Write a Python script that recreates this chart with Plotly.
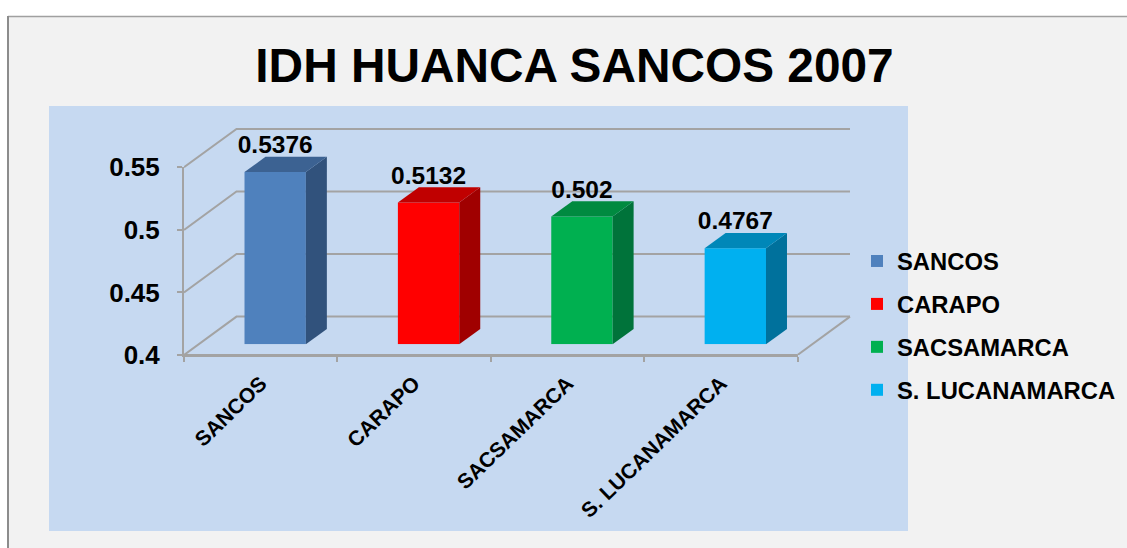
import plotly.graph_objects as go

W, H = 1127, 548
TITLE = "IDH HUANCA SANCOS 2007"
categories = ["SANCOS", "CARAPO", "SACSAMARCA", "S. LUCANAMARCA"]
values = [0.5376, 0.5132, 0.502, 0.4767]
labels = ["0.5376", "0.5132", "0.502", "0.4767"]
front_colors = ["#4f81bd", "#ff0000", "#00b050", "#00b0f0"]
side_colors = ["#31527c", "#a00000", "#00733a", "#00719c"]
top_colors = ["#3c6292", "#c00000", "#008a40", "#0087b8"]
y_ticks = [0.4, 0.45, 0.5, 0.55]
y_tick_text = ["0.4", "0.45", "0.5", "0.55"]

FONT = "Liberation Sans"
GRID = "#a3a3a3"

# pixel frame of the front plane of the 3D box
X0, X1 = 184.0, 797.5
Y0, Y1 = 355.0, 167.3
PX_PER_CAT = (X1 - X0) / 4
PX_PER_VAL = (Y0 - Y1) / 0.15

# box depth (px), converted to axis units
WALL_PX_X, WALL_PX_Y = 52.5, 38.4
WALL_DX, WALL_DY = WALL_PX_X / PX_PER_CAT, WALL_PX_Y / PX_PER_VAL
BAR_DX, BAR_DY = 21.0 / PX_PER_CAT, 15.2 / PX_PER_VAL
BAR_SHIFT_X, BAR_SHIFT_Y = 14.5, 10.8
BAR_W = 0.40
PAD = 4  # wall axes extend a little past the wall so lines are not clipped
HEAD = 40  # bar axes extend upward so the top data label stays in range


def xd(a, b):
    return [a / W, b / W]


def yd(a, b):
    return [1 - a / H, 1 - b / H]


fig = go.Figure()

# front floor edge on the visible axes
fig.add_trace(go.Scatter(
    x=[-0.5, 3.5], y=[0.4, 0.4], mode="lines", line=dict(color=GRID, width=2),
    showlegend=False, hoverinfo="skip"))

# back wall and side wall gridlines
for v in y_ticks:
    fig.add_trace(go.Scatter(
        x=[-0.5, -0.5 + WALL_DX, 3.5 + WALL_DX],
        y=[v, v + WALL_DY, v + WALL_DY],
        mode="lines", line=dict(color=GRID, width=2),
        xaxis="x2", yaxis="y2", showlegend=False, hoverinfo="skip"))
# floor right edge
fig.add_trace(go.Scatter(
    x=[3.5, 3.5 + WALL_DX], y=[0.4, 0.4 + WALL_DY],
    mode="lines", line=dict(color=GRID, width=2),
    xaxis="x2", yaxis="y2", showlegend=False, hoverinfo="skip"))

# bars
for i, (c, v) in enumerate(zip(categories, values)):
    fig.add_trace(go.Bar(
        x=[i], y=[v - 0.4], base=0.4, width=BAR_W, name=c,
        marker=dict(color=front_colors[i], line=dict(width=0)),
        legendgroup=c, xaxis="x3", yaxis="y3", cliponaxis=False,
        customdata=[v], hovertemplate=c + ": %{customdata}<extra></extra>"))
    l, r = i - BAR_W / 2, i + BAR_W / 2
    fig.add_trace(go.Scatter(
        x=[r, r + BAR_DX, r + BAR_DX, r, r],
        y=[0.4, 0.4 + BAR_DY, v + BAR_DY, v, 0.4],
        mode="lines", fill="toself", fillcolor=side_colors[i], line=dict(width=0),
        xaxis="x3", yaxis="y3", showlegend=False, hoverinfo="skip"))
    fig.add_trace(go.Scatter(
        x=[l, r, r + BAR_DX, l + BAR_DX, l],
        y=[v, v, v + BAR_DY, v + BAR_DY, v],
        mode="lines", fill="toself", fillcolor=top_colors[i], line=dict(width=0),
        xaxis="x3", yaxis="y3", showlegend=False, hoverinfo="skip"))

# data labels
fig.add_trace(go.Scatter(
    x=list(range(4)), y=[v + 25 / PX_PER_VAL for v in values], text=labels,
    mode="text", textposition="middle center",
    textfont=dict(family=FONT, size=24.5, color="#000000", weight="bold"),
    xaxis="x3", yaxis="y3", cliponaxis=False, showlegend=False, hoverinfo="skip"))

fig.update_layout(
    width=W, height=H, margin=dict(l=0, r=0, t=0, b=0, autoexpand=False),
    paper_bgcolor="#ffffff", plot_bgcolor="rgba(0,0,0,0)",
    barmode="overlay", showlegend=True,
    hovermode="closest",
    title=dict(text=TITLE, x=574.5 / W, xanchor="center", y=1 - 65 / H, yanchor="middle",
               font=dict(family=FONT, size=47.8, color="#000000", weight="bold")),
    xaxis=dict(domain=xd(X0, X1), range=[-0.5, 3.5], tickvals=[0, 1, 2, 3], ticktext=categories,
               tickangle=-44, ticks="outside", ticklen=6, tickcolor="rgba(0,0,0,0)",
               minor=dict(tickvals=[-0.5, 0.5, 1.5, 2.5, 3.5], ticks="outside", ticklen=5,
                          tickcolor=GRID, tickwidth=2, showgrid=False),
               showline=True, linecolor=GRID, linewidth=2, showgrid=False, zeroline=False,
               tickfont=dict(family=FONT, size=21, color="#000000", weight="bold")),
    yaxis=dict(domain=yd(Y0, Y1), range=[0.4, 0.55], tickvals=y_ticks, ticktext=y_tick_text,
               ticks="outside", ticklen=17, tickcolor="rgba(0,0,0,0)",
               minor=dict(tickvals=y_ticks, ticks="outside", ticklen=5,
                          tickcolor=GRID, tickwidth=2, showgrid=False),
               showline=True, linecolor=GRID, linewidth=2, showgrid=False, zeroline=False,
               tickfont=dict(family=FONT, size=26, color="#000000", weight="bold")),
    xaxis2=dict(domain=xd(X0, X1 + WALL_PX_X + PAD),
                range=[-0.5, 3.5 + (WALL_PX_X + PAD) / PX_PER_CAT],
                anchor="y2", visible=False),
    yaxis2=dict(domain=yd(Y0, Y1 - WALL_PX_Y - PAD),
                range=[0.4, 0.55 + (WALL_PX_Y + PAD) / PX_PER_VAL],
                anchor="x2", visible=False),
    xaxis3=dict(domain=xd(X0 + BAR_SHIFT_X, X1 + BAR_SHIFT_X), range=[-0.5, 3.5], anchor="y3",
                visible=False),
    yaxis3=dict(domain=yd(Y0 - BAR_SHIFT_Y, Y1 - BAR_SHIFT_Y - HEAD),
                range=[0.4, 0.55 + HEAD / PX_PER_VAL], anchor="x3", visible=False),
    legend=dict(x=857 / W, xanchor="left", y=1 - 239 / H, yanchor="top",
                bgcolor="rgba(0,0,0,0)", borderwidth=0, tracegroupgap=9,
                font=dict(family=FONT, size=23.8, color="#000000", weight="bold")),
    shapes=[
        dict(type="rect", xref="paper", yref="paper", layer="below",
             x0=8 / W, x1=1, y0=0, y1=1 - 16 / H, fillcolor="#f2f2f2", line=dict(width=0)),
        dict(type="line", xref="paper", yref="paper", layer="below",
             x0=8 / W, x1=1, y0=1 - 16.5 / H, y1=1 - 16.5 / H, line=dict(color="#a0a0a0", width=1.5)),
        dict(type="line", xref="paper", yref="paper", layer="below",
             x0=8 / W, x1=8 / W, y0=0, y1=1 - 16 / H, line=dict(color="#8c8c8c", width=2)),
        dict(type="rect", xref="paper", yref="paper", layer="below",
             x0=49 / W, x1=908 / W, y0=1 - 531 / H, y1=1 - 106 / H, fillcolor="#c6d9f1", line=dict(width=0)),
    ],
)

fig.write_html("out.html", post_script="document.body.style.margin='0';",
               config=dict(displayModeBar=False))
